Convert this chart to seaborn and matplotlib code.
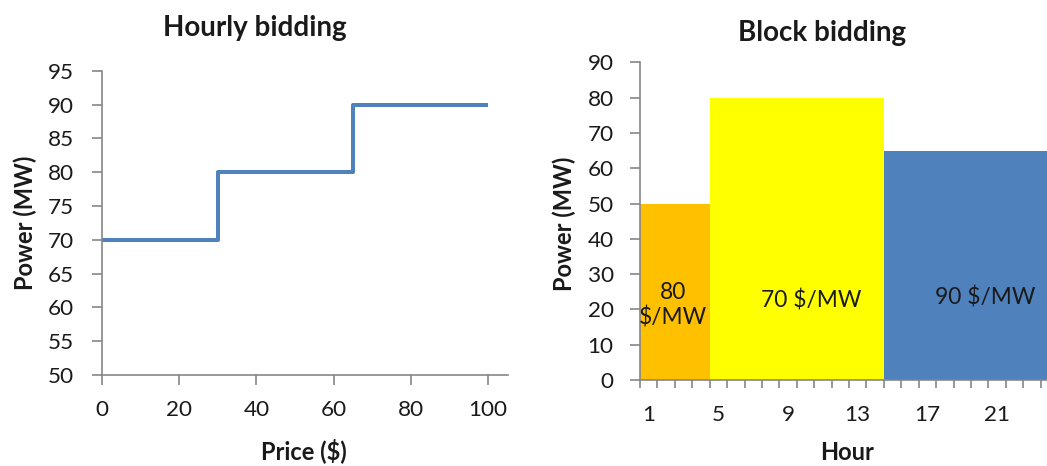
import matplotlib
matplotlib.use("Agg")
import matplotlib.pyplot as plt
from matplotlib.ticker import FixedLocator, NullFormatter
import seaborn as sns
import pandas as pd

# Hourly bid curve: price breakpoints and offered power
price = [0, 30, 65, 100]
hourly_power = [70, 80, 90, 90]

# Block bids: hour ranges, power level and price of each block
block_names = ["Block A", "Block B", "Block C"]
block_start = [1, 5, 15]
block_end = [4, 14, 24]
block_power = [50, 80, 65]
block_price = [80, 70, 90]
block_colors = ["#FFC000", "#FFFF00", "#4F81BD"]

hour_ticks = [1, 5, 9, 13, 17, 21]
power_ticks_hourly = list(range(50, 96, 5))
price_ticks = list(range(0, 101, 20))
power_ticks_block = list(range(0, 91, 10))

sns.set_theme(style="ticks")
plt.rcParams["font.family"] = ["Lato", "DejaVu Sans"]

SPINE = "#868686"
TEXT = "#1a1a1a"
TICK_FS = 16.2
LABEL_FS = 17
TITLE_FS = 20

curve = pd.DataFrame({"price": price, "power": hourly_power})
rows = []
for name, s, e, p in zip(block_names, block_start, block_end, block_power):
    for h in range(s, e + 1):
        rows.append({"hour": h, "power": p, "block": name})
blocks = pd.DataFrame(rows)

fig = plt.figure(figsize=(10.47, 4.66), dpi=100)


def style_axes(ax):
    for side in ("top", "right"):
        ax.spines[side].set_visible(False)
    for side in ("left", "bottom"):
        ax.spines[side].set_color(SPINE)
        ax.spines[side].set_linewidth(1.2)
    ax.tick_params(axis="both", which="both", colors=SPINE, labelcolor=TEXT,
                   labelsize=TICK_FS, width=1.2, direction="out")


# ---- Hourly bidding: step curve ----
ax1 = fig.add_axes([0.0974, 0.1953, 0.3878, 0.6530])
sns.lineplot(data=curve, x="price", y="power", ax=ax1, color="#4F81BD",
             linewidth=2.9, drawstyle="steps-post", solid_capstyle="butt")
ax1.set_xlim(0, 105.2)
ax1.set_ylim(50, 95)
ax1.set_xticks(price_ticks)
ax1.set_yticks(power_ticks_hourly)
style_axes(ax1)
ax1.tick_params(axis="y", length=7, pad=13)
ax1.tick_params(axis="x", length=7, pad=11)
ax1.set_xlabel("")
ax1.set_ylabel("")
fig.text(0.290, 0.032, "Price ($)", ha="center", va="center",
         fontsize=LABEL_FS, fontweight="bold", color=TEXT)
fig.text(0.024, 0.521, "Power (MW)", ha="center", va="center", rotation=90,
         fontsize=LABEL_FS, fontweight="bold", color=TEXT)
fig.text(0.243, 0.940, "Hourly bidding", ha="center", va="center",
         fontsize=TITLE_FS, fontweight="bold", color=TEXT)

# ---- Block bidding: bars per hour, coloured by block ----
ax2 = fig.add_axes([0.6113, 0.1845, 0.3992, 0.6818])
sns.barplot(data=blocks, x="hour", y="power", hue="block", ax=ax2,
            palette=dict(zip(block_names, block_colors)), native_scale=True,
            width=1.0, dodge=False, errorbar=None, legend=False,
            linewidth=0, saturation=1)
ax2.set_xlim(0.5, 24.5)
ax2.set_ylim(0, 90)
ax2.set_yticks(power_ticks_block)
ax2.xaxis.set_major_locator(FixedLocator([h + 0.5 for h in range(0, 25)]))
ax2.xaxis.set_major_formatter(NullFormatter())
ax2.set_xticks(hour_ticks, [str(h) for h in hour_ticks], minor=True)
style_axes(ax2)
ax2.tick_params(axis="y", length=7, pad=12)
ax2.tick_params(axis="x", which="major", length=6)
ax2.tick_params(axis="x", which="minor", length=0, pad=18)
ax2.set_xlabel("")
ax2.set_ylabel("")

label_pos = [(2.4, 21.2), (10.3, 22.4), (20.3, 23.5)]
for i, (p, (hx, hy)) in enumerate(zip(block_price, label_pos)):
    txt = f"{p}\n$/MW" if i == 0 else f"{p} $/MW"
    ax2.text(hx, hy, txt, ha="center", va="center", fontsize=16.4,
             color=TEXT, linespacing=1.2)

fig.text(0.809, 0.028, "Hour", ha="center", va="center",
         fontsize=LABEL_FS, fontweight="bold", color=TEXT)
fig.text(0.539, 0.520, "Power (MW)", ha="center", va="center", rotation=90,
         fontsize=LABEL_FS, fontweight="bold", color=TEXT)
fig.text(0.7855, 0.929, "Block bidding", ha="center", va="center",
         fontsize=TITLE_FS, fontweight="bold", color=TEXT)

fig.savefig("out.png", dpi=100)
